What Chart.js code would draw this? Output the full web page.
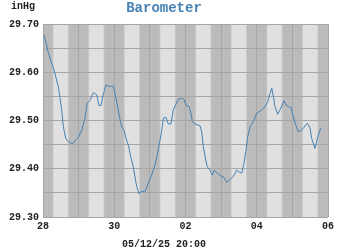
<!DOCTYPE html>
<html>
<head>
<meta charset="utf-8">
<script src="https://cdn.jsdelivr.net/npm/chart.js@4"></script>
<style>
  body { margin: 0; background: #fff; }
  canvas { display: block; }
</style>
</head>
<body>
<canvas id="baroChart" width="350" height="250"></canvas>
<script>
// Hours since 28th 00:00, and barometer readings (inHg)
const hours = [0.7, 3.4, 4.7, 7.4, 10.3, 11.0, 12.6, 13.7, 15.3, 17.0, 18.9, 20.4, 22.2, 23.8,
  26.1, 28.3, 29.8, 31.7, 33.9, 36.2, 37.7, 39.1, 40.2, 42.4, 44.0, 47.4, 48.5, 50.1, 51.9,
  53.4, 54.6, 55.9, 57.5, 59.1, 60.8, 63.1, 64.7, 66.5, 68.7, 70.9, 73.2, 75.5, 77.7, 80.0,
  81.1, 82.7, 84.4, 86.2, 87.8, 91.2, 93.4, 95.0, 96.3, 98.4, 99.7, 100.6, 102.4, 105.8,
  106.9, 108.0, 109.6, 110.7, 112.5, 114.1, 115.4, 118.1, 120.4, 121.9, 123.8, 126.0, 128.2,
  130.5, 132.2, 133.9, 135.4, 136.8, 137.9, 139.5, 142.2, 144.0, 147.3, 149.6, 151.4, 152.9,
  154.1, 155.2, 156.3, 158.1, 159.7, 162.4, 163.7, 165.3, 167.1, 168.6, 170.2, 172.0, 173.8,
  175.4, 177.0, 178.3, 179.9, 181.0, 183.2, 185.1, 187.1];
const pressure = [29.677, 29.643, 29.629, 29.605, 29.570, 29.556, 29.522, 29.487, 29.463, 29.456,
  29.453, 29.453, 29.460, 29.465, 29.480, 29.505, 29.536, 29.542, 29.558, 29.553, 29.531, 29.531,
  29.549, 29.574, 29.571, 29.571, 29.556, 29.532, 29.501, 29.484, 29.480, 29.463, 29.449, 29.425,
  29.404, 29.363, 29.348, 29.354, 29.352, 29.370, 29.387, 29.408, 29.439, 29.480, 29.505, 29.507,
  29.493, 29.493, 29.522, 29.544, 29.546, 29.544, 29.532, 29.529, 29.515, 29.498, 29.493, 29.489,
  29.477, 29.446, 29.418, 29.404, 29.397, 29.387, 29.397, 29.389, 29.384, 29.382, 29.372, 29.378,
  29.384, 29.397, 29.393, 29.391, 29.411, 29.439, 29.466, 29.487, 29.501, 29.515, 29.522, 29.529,
  29.539, 29.556, 29.567, 29.549, 29.529, 29.513, 29.522, 29.541, 29.532, 29.529, 29.527, 29.508,
  29.491, 29.477, 29.479, 29.484, 29.491, 29.494, 29.484, 29.463, 29.442, 29.466, 29.484];

const dayLabels = ['28', '', '30', '', '02', '', '04', '', '06'];
const yTickLabels = ['29.30', '', '29.40', '', '29.50', '', '29.60', '', '29.70'];

// daylight times (hour of day)
const dawn = 6.5, sunrise = 7.1, sunset = 16.8, dusk = 17.4;

const monoFont = "'Liberation Mono', 'DejaVu Sans Mono', monospace";

// night/day shading behind the grid
const dayNightBands = {
    id: 'dayNightBands',
    beforeDraw(chart) {
        const { ctx, chartArea, scales } = chart;
        const x = scales.x;
        ctx.save();
        ctx.fillStyle = '#bbbbbb';
        ctx.fillRect(chartArea.left, chartArea.top, chartArea.right - chartArea.left, chartArea.bottom - chartArea.top);
        for (let d = 0; d < dayLabels.length - 1; d++) {
            const base = d * 24;
            const x1 = x.getPixelForValue(base + dawn);
            const x2 = x.getPixelForValue(base + dusk);
            ctx.fillStyle = '#cbcbcb';
            ctx.fillRect(x1, chartArea.top, x2 - x1, chartArea.bottom - chartArea.top);
            const x3 = x.getPixelForValue(base + sunrise);
            const x4 = x.getPixelForValue(base + sunset);
            ctx.fillStyle = '#e0e0e0';
            ctx.fillRect(x3, chartArea.top, x4 - x3, chartArea.bottom - chartArea.top);
        }
        ctx.restore();
    },
    afterDraw(chart) {
        const ctx = chart.ctx;
        ctx.save();
        ctx.font = "bold 10px " + monoFont;
        ctx.fillStyle = '#222';
        ctx.textBaseline = 'middle';
        ctx.textAlign = 'left';
        ctx.fillText('inHg', 11, 6);
        ctx.restore();
    }
};

const ctx = document.getElementById('baroChart').getContext('2d');
const baroChart = new Chart(ctx, {
    type: 'line',
    data: {
        datasets: [{
            label: 'Barometer',
            data: hours.map((h, i) => ({ x: h, y: pressure[i] })),
            borderColor: '#4682b4',
            borderWidth: 1,
            pointRadius: 0,
            tension: 0,
            fill: false
        }]
    },
    options: {
        responsive: false,
        animation: false,
        devicePixelRatio: 1,
        layout: { padding: { left: 0, right: 22, top: 0, bottom: 0 } },
        plugins: {
            legend: { display: false },
            tooltip: { enabled: false },
            title: {
                display: true,
                text: 'Barometer',
                color: '#4682b4',
                font: { family: monoFont, size: 14, weight: 'bold', lineHeight: 1.2 },
                padding: { top: 0, bottom: 7.2 }
            },
            subtitle: {
                display: true,
                position: 'bottom',
                text: '05/12/25 20:00',
                color: '#222',
                font: { family: monoFont, size: 10, weight: 'bold', lineHeight: 1.2 },
                padding: { top: 0, bottom: 0 }
            }
        },
        scales: {
            x: {
                type: 'linear',
                min: 0,
                max: 192,
                afterBuildTicks(scale) {
                    scale.ticks = dayLabels.map((_, i) => ({ value: i * 24 }));
                },
                afterFit(scale) { scale.height = 21; },
                ticks: {
                    stepSize: 24,
                    autoSkip: false,
                    maxRotation: 0,
                    padding: 3,
                    color: '#222',
                    font: { family: monoFont, size: 10, weight: 'bold' },
                    callback: (value, index) => dayLabels[index]
                },
                grid: { color: '#a6a6a6', lineWidth: 1, drawTicks: false },
                border: { display: false }
            },
            y: {
                min: 29.30,
                max: 29.70,
                afterBuildTicks(scale) {
                    scale.ticks = yTickLabels.map((_, i) => ({ value: 29.30 + i * 0.05 }));
                },
                afterFit(scale) { scale.width = 43; },
                ticks: {
                    autoSkip: false,
                    padding: 4,
                    color: '#222',
                    font: { family: monoFont, size: 10, weight: 'bold' },
                    callback: (value, index) => yTickLabels[index]
                },
                grid: { color: '#a6a6a6', lineWidth: 1, drawTicks: false },
                border: { display: false }
            }
        }
    },
    plugins: [dayNightBands]
});
</script>
</body>
</html>
